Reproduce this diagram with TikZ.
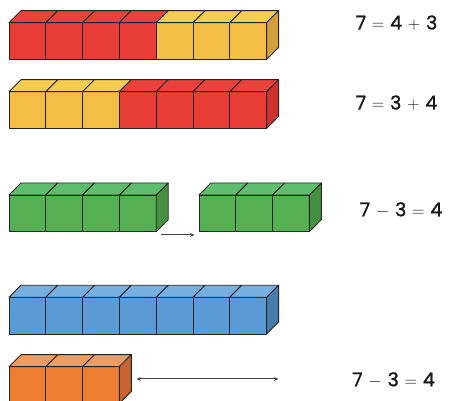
\documentclass[tikz,border=0pt]{standalone}
\usepackage{fontspec}
\newfontfamily\eqfont[FakeBold=1.2]{Poppins}
\usetikzlibrary{arrows.meta}
\definecolor{rF}{RGB}{232,61,55}\definecolor{rT}{RGB}{232,66,58}\definecolor{rS}{RGB}{205,50,45}
\definecolor{yF}{RGB}{244,189,68}\definecolor{yT}{RGB}{246,205,80}\definecolor{yS}{RGB}{212,160,58}
\definecolor{gF}{RGB}{85,176,84}\definecolor{gT}{RGB}{95,190,110}\definecolor{gS}{RGB}{70,145,65}
\definecolor{bF}{RGB}{91,155,213}\definecolor{bT}{RGB}{120,175,225}\definecolor{bS}{RGB}{72,125,175}
\definecolor{oF}{RGB}{237,125,49}\definecolor{oT}{RGB}{242,155,90}\definecolor{oS}{RGB}{200,100,48}
\definecolor{edge}{RGB}{35,35,35}
\tikzset{face/.style={draw=edge,line width=0.9pt,line join=round},
  conn/.style={draw=edge!85!white,line width=1pt},
  eq/.style={font=\fontsize{19}{22}\selectfont\eqfont,text=black!90,inner sep=0pt}}
\newcommand\cw{36.8}\newcommand\ch{36.7}\newcommand\cd{12}
\newcommand\oprel[1]{\hspace{5.8pt}$#1$\hspace{5.8pt}}
% \onecube{x}{ytop}{colour prefix}
\newcommand\onecube[3]{%
  \fill[#3F,face] (#1,#2) rectangle ++(\cw,\ch);
  \fill[#3T,face] (#1,#2) -- ++(\cd,-\cd) -- ++(\cw,0) -- ++(-\cd,\cd) -- cycle;}
\newcommand\sidecube[3]{%
  \fill[#3S,face] (#1+\cw,#2) -- ++(\cd,-\cd) -- ++(0,\ch) -- ++(-\cd,\cd) -- cycle;}
\begin{document}
\begin{tikzpicture}[x=1pt,y=-1pt]
\useasboundingbox (0,0) rectangle (451,401);
% row 1: 4 red + 3 yellow
\foreach \i/\c in {0/r,1/r,2/r,3/r,4/y,5/y,6/y}{\onecube{9+\i*\cw}{22.7}{\c}}
\sidecube{9+6*\cw}{22.7}{y}
% row 2: 3 yellow + 4 red
\foreach \i/\c in {0/y,1/y,2/y,3/r,4/r,5/r,6/r}{\onecube{9+\i*\cw}{91.7}{\c}}
\sidecube{9+6*\cw}{91.7}{r}
% row 3: 4 green, then 3 green
\foreach \i in {0,...,3}{\onecube{9+\i*\cw}{195}{g}}
\sidecube{9+3*\cw}{195}{g}
\foreach \i in {0,...,2}{\onecube{199+\i*\cw}{195}{g}}
\sidecube{199+2*\cw}{195}{g}
% row 4: 7 blue
\foreach \i in {0,...,6}{\onecube{9+\i*\cw}{297.3}{b}}
\sidecube{9+6*\cw}{297.3}{b}
% row 5: 3 orange
\foreach \i in {0,...,2}{\onecube{9+\i*\cw}{366.7}{o}}
\sidecube{9+2*\cw}{366.7}{o}
% connectors
\coordinate (a1) at (160.7,235);
\coordinate (a2) at (194.5,235);
\draw[conn,-{Stealth[length=4.5pt,width=4pt]}] (a1) -- (a2);
\coordinate (b1) at (136.5,379);
\coordinate (b2) at (278.5,379);
\draw[conn,{Stealth[length=4.5pt,width=4pt]}-{Stealth[length=4.5pt,width=4pt]}] (b1) -- (b2);
% equations
\node[eq] (e1) at (396.5,23) {7\oprel{=}4\oprel{+}3};
\node[eq] (e2) at (396.5,103) {7\oprel{=}3\oprel{+}4};
\node[eq] (e3) at (401,210) {7\oprel{-}3\oprel{=}4};
\node[eq] (e4) at (393.5,380) {7\oprel{-}3\oprel{=}4};
\end{tikzpicture}
\end{document}
